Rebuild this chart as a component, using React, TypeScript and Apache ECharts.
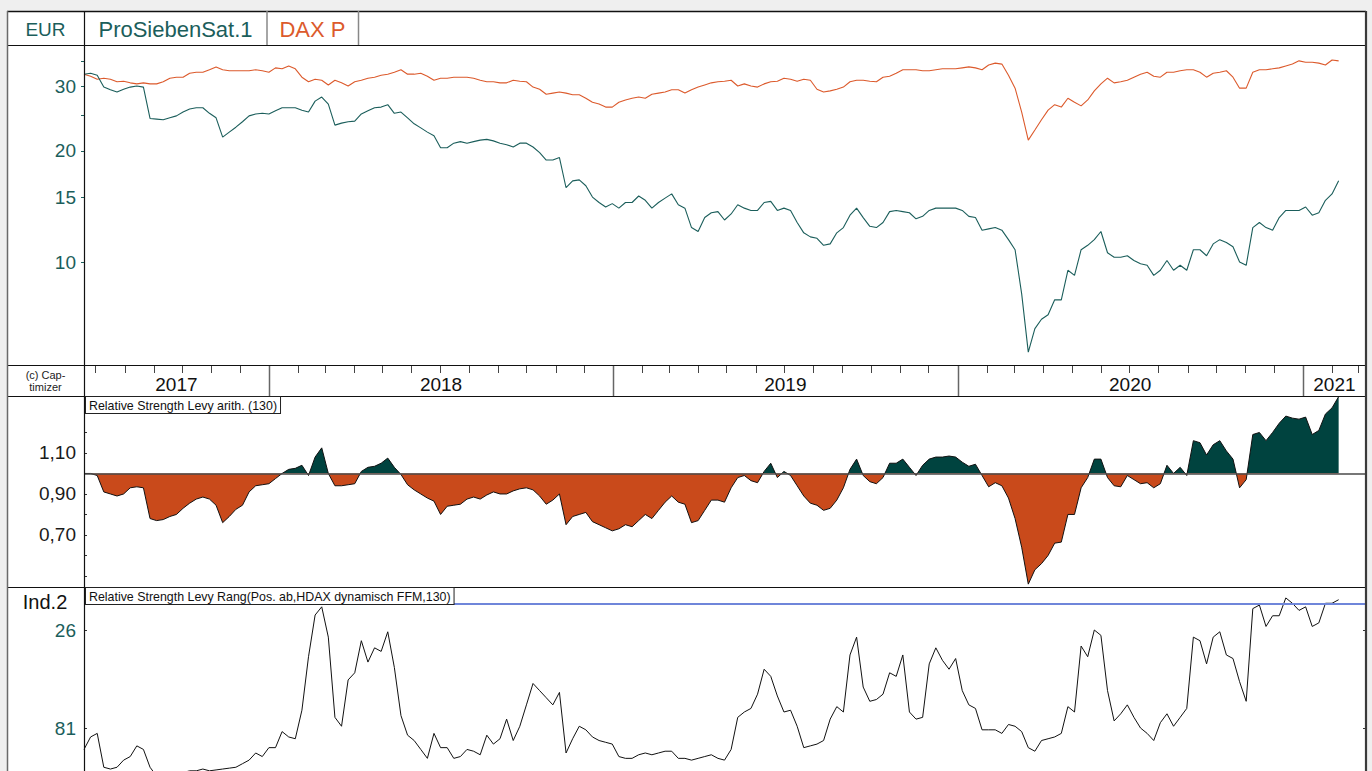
import React, { useEffect, useRef } from "react";
import * as echarts from "echarts";

// ---- time base (weekly samples) ----
const START = Date.UTC(2017, 5, 19);
const STEP_DAYS = 7;
const AXIS_MIN = Date.UTC(2017, 5, 19);
const AXIS_MAX = Date.UTC(2021, 2, 9);
const years = [2017, 2018, 2019, 2020, 2021];

// ---- series values ----
const proSieben = [
  32.3, 32.5, 32.1, 29.8, 29.3, 28.9, 29.4, 29.8, 30.0, 29.8,
  24.5, 24.4, 24.3, 24.6, 24.9, 25.5, 26.0, 26.2, 26.2, 25.3,
  24.6, 21.8, 22.5, 23.2, 24.0, 24.9, 25.2, 25.3, 25.2, 25.7,
  26.2, 26.2, 26.2, 25.8, 25.5, 27.3, 28.0, 26.8, 23.5, 23.8,
  24.0, 24.1, 25.2, 25.7, 26.2, 26.3, 26.7, 25.3, 25.5, 24.6,
  23.7, 23.1, 22.5, 22.0, 20.4, 20.4, 21.0, 21.2, 21.0, 21.2,
  21.4, 21.5, 21.3, 21.0, 20.8, 20.5, 21.0, 21.0, 20.5, 19.8,
  18.9, 18.9, 19.2, 15.9, 16.6, 16.7, 16.1, 15.0, 14.5, 14.1,
  14.4, 14.0, 14.5, 14.5, 15.1, 14.7, 14.0, 14.5, 14.9, 15.3,
  14.3, 14.0, 12.4, 12.1, 13.2, 13.6, 13.7, 13.0, 13.5, 14.3,
  14.0, 13.8, 13.8, 14.5, 14.6, 13.8, 14.0, 13.8, 12.8, 12.0,
  11.7, 11.6, 11.1, 11.2, 12.0, 12.4, 13.4, 14.0, 13.2, 12.5,
  12.4, 12.8, 13.7, 13.8, 13.7, 13.6, 13.1, 13.3, 13.8, 14.0,
  14.0, 14.0, 14.0, 13.8, 13.3, 13.2, 12.2, 12.3, 12.4, 12.2,
  11.5, 10.8, 8.2, 5.7, 6.6, 7.0, 7.2, 7.9, 7.9, 9.5,
  9.2, 10.8, 11.1, 11.5, 12.1, 10.6, 10.3, 10.3, 10.4, 10.1,
  9.9, 9.8, 9.2, 9.5, 10.1, 9.5, 9.8, 9.5, 10.8, 10.8,
  10.4, 11.2, 11.5, 11.3, 11.0, 10.0, 9.8, 12.4, 12.8, 12.4,
  12.2, 13.2, 13.8, 13.8, 13.8, 14.1, 13.4, 13.6, 14.7, 15.3,
  16.6,
];

const daxP = [
  32.3, 31.9, 31.3, 31.5, 31.3, 30.8, 30.9, 30.6, 30.4, 30.6,
  30.4, 30.4, 30.8, 31.5, 31.7, 31.7, 32.5, 32.7, 32.7, 33.2,
  33.8, 33.2, 33.0, 33.0, 33.0, 33.0, 33.2, 33.0, 32.7, 33.6,
  33.4, 34.0, 33.4, 31.7, 30.8, 31.3, 31.1, 30.2, 31.1, 30.6,
  30.0, 30.8, 31.1, 31.5, 31.7, 32.1, 32.3, 32.7, 33.2, 32.3,
  32.3, 32.5, 31.9, 31.1, 31.5, 31.5, 31.7, 31.7, 31.7, 31.5,
  31.1, 30.8, 30.8, 30.6, 30.6, 31.1, 30.9, 30.8, 29.8, 29.4,
  28.5, 28.7, 28.9, 28.7, 28.4, 28.4, 27.8, 27.1, 26.8, 26.3,
  26.3, 27.1, 27.5, 27.8, 28.0, 27.8, 28.5, 28.7, 28.9, 29.3,
  29.3, 28.7, 29.3, 29.8, 30.2, 30.6, 30.8, 30.9, 31.1, 30.0,
  30.4, 30.0, 29.8, 30.4, 30.8, 30.9, 31.5, 31.3, 30.9, 31.3,
  31.1, 29.4, 28.9, 29.1, 29.4, 29.8, 30.8, 31.1, 31.1, 30.9,
  30.8, 31.7, 31.9, 32.5, 33.2, 33.2, 33.2, 33.0, 33.0, 33.2,
  33.4, 33.4, 33.4, 33.6, 33.8, 33.6, 33.2, 34.2, 34.6, 34.4,
  32.1, 29.6, 25.5, 21.4, 22.8, 24.3, 25.8, 26.7, 26.3, 27.8,
  27.1, 26.5, 27.5, 29.1, 30.4, 31.5, 30.6, 30.8, 31.1, 31.7,
  32.3, 32.7, 31.9, 31.7, 32.7, 32.7, 33.0, 33.2, 33.2, 32.7,
  31.7, 32.5, 32.7, 33.0, 31.7, 29.6, 29.6, 32.7, 33.2, 33.2,
  33.4, 33.6, 34.0, 34.4, 35.1, 34.8, 34.8, 34.6, 34.2, 35.3,
  35.1,
];

const rsLevy = [
  1.0, 1.0, 0.99, 0.91, 0.9, 0.89, 0.9, 0.93, 0.935, 0.93,
  0.78, 0.77, 0.775, 0.79, 0.8, 0.83, 0.855, 0.875, 0.885, 0.875,
  0.845, 0.76, 0.79, 0.825, 0.845, 0.91, 0.94, 0.945, 0.95, 0.975,
  1.0, 1.02, 1.025, 1.04, 0.99, 1.08, 1.125, 1.0, 0.94, 0.94,
  0.945, 0.95, 1.01, 1.03, 1.035, 1.05, 1.075, 1.03, 0.995, 0.945,
  0.92, 0.9, 0.88, 0.865, 0.8, 0.84, 0.845, 0.85, 0.875, 0.885,
  0.875, 0.895, 0.91, 0.9, 0.9, 0.915, 0.925, 0.93, 0.92, 0.89,
  0.85, 0.87, 0.9, 0.75, 0.79, 0.8, 0.81, 0.765, 0.75, 0.735,
  0.72, 0.73, 0.75, 0.74, 0.77, 0.8, 0.78, 0.82, 0.86, 0.89,
  0.86, 0.85, 0.76, 0.77, 0.82, 0.87, 0.87, 0.86, 0.93, 0.98,
  0.99, 0.965, 0.955, 1.01, 1.05, 0.98, 1.01, 0.99, 0.94, 0.89,
  0.855, 0.845, 0.82, 0.83, 0.87, 0.93, 1.02, 1.07, 0.99, 0.96,
  0.95, 0.98, 1.05, 1.05, 1.07, 1.03, 0.99, 1.04, 1.07, 1.08,
  1.08, 1.085, 1.08, 1.055, 1.035, 1.045, 0.99, 0.935, 0.955, 0.94,
  0.88, 0.78, 0.64, 0.46, 0.53, 0.56, 0.6, 0.66, 0.665, 0.8,
  0.8, 0.93, 0.98, 1.07, 1.07, 0.98, 0.94, 0.935, 0.99, 0.97,
  0.95, 0.955, 0.93, 0.95, 1.04, 1.0, 1.03, 0.99, 1.16, 1.15,
  1.09, 1.14, 1.16, 1.11, 1.07, 0.93, 0.97, 1.19, 1.2, 1.16,
  1.2, 1.245, 1.28, 1.27, 1.265, 1.275, 1.19, 1.21, 1.29, 1.32,
  1.375,
];

const rsRank = [
  93, 86, 84, 103, 104, 103, 99, 97, 91, 93,
  103, 108, 109, 108, 106, 106, 105, 105, 104, 105,
  104.5, 104, 103.5, 103, 101, 99, 95, 97, 92, 92,
  83, 86, 87, 71, 41, 17.6, 13, 30, 75, 80,
  54, 50, 32, 44, 36, 38, 27, 47, 74, 85,
  88, 93, 98, 84, 92, 92, 98, 97, 93, 94,
  96, 85, 90, 87, 76, 88, 80, 68, 56, 60,
  64, 68, 61, 95, 87, 80, 82, 86, 88, 89,
  90, 97, 98, 98, 96, 95, 96, 95, 94, 94,
  98, 98, 99, 98, 97, 96, 98, 99, 93, 75,
  72, 70, 62, 48, 52, 63, 72, 71, 80, 92,
  91, 90, 88, 76, 69, 72, 40, 30, 58, 66,
  65, 62, 50, 52, 40, 72, 76, 75, 45, 36,
  43, 48, 42, 60, 68, 70, 82, 82, 82, 84,
  79, 80, 83, 92, 94, 88, 87, 86, 84, 69,
  72, 35, 41, 26, 29, 60, 77, 73, 68, 75,
  81, 84, 88, 78, 73, 80, 75, 70, 30, 32,
  45, 30, 27, 40, 42, 55, 66, 14, 12, 24,
  18, 18, 8, 11, 15, 13, 24, 22, 11, 11,
  9,
];

// ---- tick labels / axis ranges ----
const priceLabelValues = [10, 15, 20, 30];
const priceTickValues = [10, 15, 20, 25, 30, 35];
const PRICE_MIN = 5.26;
const PRICE_MAX = 38.75;
const rsLabelValues = [0.7, 0.9, 1.1];
const rsTickValues = [0.5, 0.6, 0.7, 0.8, 0.9, 1.0, 1.1, 1.2, 1.3];
const RS_MIN = 0.446;
const RS_MAX = 1.378;
const RS_BASE = 1;
const rankLabelValues = [26, 81];
const RANK_MIN = 1.87;
const RANK_MAX = 105.1;
const RANK_MARK = 11;

const PRO_COLOR = "#1b5e5b";
const DAX_COLOR = "#dc5a2c";
const RS_UP = "#00433f";
const RS_DOWN = "#c94a1b";
const FONT = '"Liberation Sans", Arial, Helvetica, sans-serif';

export default function App() {
  const ref = useRef<HTMLDivElement>(null);

  useEffect(() => {
    const el = ref.current!;
    const chart = echarts.init(el, null, { renderer: "svg" });
    const DAY = 86400000;
    const dates = proSieben.map((_, i) => START + i * STEP_DAYS * DAY);
    const pairs = (arr: number[], f: (v: number) => number = (v) => v) =>
      arr.map((v, i) => [dates[i], f(v)]);

    const xAxisBase = { type: "time", min: AXIS_MIN, max: AXIS_MAX, show: false };

    chart.setOption({
      animation: false,
      backgroundColor: "transparent",
      textStyle: { fontFamily: FONT },
      grid: [
        { left: 84, top: 45, width: 1282, height: 320 },
        { left: 84, top: 396, width: 1282, height: 191 },
        { left: 84, top: 587, width: 1282, height: 184 },
      ],
      xAxis: [
        { ...xAxisBase, gridIndex: 0 },
        { ...xAxisBase, gridIndex: 1 },
        { ...xAxisBase, gridIndex: 2 },
      ],
      yAxis: [
        {
          gridIndex: 0,
          type: "value",
          min: Math.log10(PRICE_MIN),
          max: Math.log10(PRICE_MAX),
          axisLine: { show: false },
          splitLine: { show: false },
          axisTick: {
            show: true,
            length: 3,
            customValues: priceTickValues.map((v) => Math.log10(v)),
            lineStyle: { color: PRO_COLOR },
          },
          axisLabel: {
            customValues: priceLabelValues.map((v) => Math.log10(v)),
            formatter: (v: number) => String(Math.round(Math.pow(10, v))),
            color: PRO_COLOR,
            fontSize: 19,
            margin: 8,
            fontFamily: FONT,
          },
        },
        {
          gridIndex: 1,
          type: "value",
          min: RS_MIN,
          max: RS_MAX,
          axisLine: { show: false },
          splitLine: { show: false },
          axisTick: {
            show: true,
            inside: true,
            length: 3,
            customValues: rsTickValues,
            lineStyle: { color: "#333" },
          },
          axisLabel: {
            customValues: rsLabelValues,
            formatter: (v: number) => v.toFixed(2).replace(".", ","),
            color: "#1a1a1a",
            fontSize: 19,
            margin: 8,
            fontFamily: FONT,
          },
        },
        {
          gridIndex: 2,
          type: "value",
          inverse: true,
          min: RANK_MIN,
          max: RANK_MAX,
          axisLine: { show: false },
          splitLine: { show: false },
          axisTick: {
            show: true,
            inside: true,
            length: 3,
            customValues: rankLabelValues,
            lineStyle: { color: "#333" },
          },
          axisLabel: {
            customValues: rankLabelValues,
            color: PRO_COLOR,
            fontSize: 19,
            margin: 8,
            fontFamily: FONT,
          },
        },
        {
          gridIndex: 2,
          type: "value",
          position: "right",
          inverse: true,
          min: RANK_MIN,
          max: RANK_MAX,
          axisLine: { show: false },
          splitLine: { show: false },
          axisTick: {
            show: true,
            inside: true,
            length: 3,
            customValues: rankLabelValues,
            lineStyle: { color: "#333" },
          },
          axisLabel: { show: false },
        },
      ],
      visualMap: [
        {
          type: "piecewise",
          show: false,
          seriesIndex: 2,
          dimension: 1,
          pieces: [
            { gte: 0, lt: RS_BASE, color: RS_DOWN },
            { gte: RS_BASE, lte: 10, color: RS_UP },
          ],
        },
      ],
      series: [
        {
          name: "ProSiebenSat.1",
          type: "line",
          xAxisIndex: 0,
          yAxisIndex: 0,
          data: pairs(proSieben, (v) => Math.log10(v)),
          symbol: "none",
          lineStyle: { color: PRO_COLOR, width: 1.1 },
          itemStyle: { color: PRO_COLOR },
          z: 4,
        },
        {
          name: "DAX P",
          type: "line",
          xAxisIndex: 0,
          yAxisIndex: 0,
          data: pairs(daxP, (v) => Math.log10(v)),
          symbol: "none",
          lineStyle: { color: DAX_COLOR, width: 1.1 },
          itemStyle: { color: DAX_COLOR },
          z: 3,
        },
        {
          name: "RS area",
          type: "line",
          xAxisIndex: 1,
          yAxisIndex: 1,
          data: pairs(rsLevy),
          symbol: "none",
          lineStyle: { width: 0, opacity: 0 },
          areaStyle: { origin: RS_BASE, opacity: 1 },
          z: 2,
        },
        {
          name: "Relative Strength Levy arith. (130)",
          type: "line",
          xAxisIndex: 1,
          yAxisIndex: 1,
          data: pairs(rsLevy),
          symbol: "none",
          lineStyle: { color: "#111", width: 1 },
          itemStyle: { color: "#111" },
          z: 4,
          markLine: {
            silent: true,
            symbol: ["none", "none"],
            label: { show: false },
            lineStyle: { color: "#4a4a4a", width: 1.6, type: "solid" },
            data: [{ yAxis: RS_BASE }],
          },
        },
        {
          name: "Relative Strength Levy Rang",
          type: "line",
          xAxisIndex: 2,
          yAxisIndex: 2,
          data: pairs(rsRank),
          symbol: "none",
          lineStyle: { color: "#111", width: 1 },
          itemStyle: { color: "#111" },
          z: 4,
          markLine: {
            silent: true,
            symbol: ["none", "none"],
            label: { show: false },
            lineStyle: { color: "#6f86da", width: 2, type: "solid" },
            data: [{ yAxis: RANK_MARK }],
          },
        },
      ],
    });

    // ---- frame, header, time strip (positions via the chart's time scale) ----
    const px = (t: number) => chart.convertToPixel({ xAxisIndex: 0 }, t) as number;
    const line = (x1: number, y1: number, x2: number, y2: number, stroke: string, w: number, z = 100) => ({
      type: "line",
      silent: true,
      z,
      shape: { x1, y1, x2, y2 },
      style: { stroke, lineWidth: w },
    });
    const text = (t: string, x: number, y: number, size: number, fill: string, align = "center", extra: any = {}) => ({
      type: "text",
      silent: true,
      z: 110,
      x,
      y,
      style: {
        text: t,
        fill,
        font: `${size}px ${FONT}`,
        textAlign: align,
        align,
        textVerticalAlign: "middle",
        verticalAlign: "middle",
        ...extra,
      },
    });

    const g: any[] = [];
    g.push({
      type: "rect",
      silent: true,
      z: -10,
      shape: { x: 7, y: 11, width: 1359, height: 770 },
      style: { fill: "#ffffff" },
    });
    // horizontal frame lines
    g.push(line(7, 11.5, 1366, 11.5, "#111", 1.5));
    g.push(line(7, 45.5, 1366, 45.5, "#111", 1.2));
    g.push(line(7, 365.5, 1366, 365.5, "#111", 1.2));
    g.push(line(7, 396.5, 1366, 396.5, "#111", 1.2));
    g.push(line(7, 587.5, 1366, 587.5, "#111", 1.2));
    // vertical frame lines
    g.push(line(7.5, 11, 7.5, 771, "#6a6a6a", 1.5));
    g.push(line(84.5, 11, 84.5, 771, "#111", 1.2));
    g.push(line(1366, 11, 1366, 771, "#3a3a3a", 2.2));
    g.push(line(267, 11, 267, 45, "#888", 1.5));
    g.push(line(358.5, 11, 358.5, 45, "#888", 1.5));

    // header texts
    g.push(text("EUR", 45.5, 29, 19, PRO_COLOR));
    g.push(text("ProSiebenSat.1", 175.5, 29, 22, PRO_COLOR));
    g.push(text("DAX P", 312.5, 29, 22, DAX_COLOR));
    g.push(text("(c) Cap-", 45.5, 375, 11, "#222"));
    g.push(text("timizer", 45.5, 387, 11, "#222"));
    g.push(text("Ind.2", 45, 602, 20, "#111"));

    // indicator titles
    const boxStyle = {
      backgroundColor: "#ffffff",
      borderColor: "#222",
      borderWidth: 1,
      padding: [2, 3, 1, 3],
      lineHeight: 13,
      textVerticalAlign: "top",
      verticalAlign: "top",
    };
    g.push(text("Relative Strength Levy arith. (130)", 86, 397, 12.4, "#111", "left", boxStyle));
    g.push(text("Relative Strength Levy Rang(Pos. ab,HDAX dynamisch FFM,130)", 86, 588, 12.4, "#111", "left", boxStyle));

    // month ticks and year separators
    for (let y = 2017; y <= 2021; y++) {
      for (let m = 0; m < 12; m++) {
        const t = Date.UTC(y, m, 1);
        if (t <= AXIS_MIN || t >= AXIS_MAX) continue;
        const x = Math.round(px(t)) + 0.5;
        if (m === 0) {
          g.push(line(x, 366, x, 396, "#666", 1.5));
        } else {
          g.push(line(x, 366, x, 373, "#444", 1));
        }
      }
    }
    // year labels centred in the visible part of each year
    years.forEach((y) => {
      const s = Math.max(Date.UTC(y, 0, 1), AXIS_MIN);
      const e = Math.min(Date.UTC(y + 1, 0, 1), AXIS_MAX);
      g.push(text(String(y), (px(s) + px(e)) / 2, 384.5, 19, "#111"));
    });

    chart.setOption({ graphic: g });

    return () => chart.dispose();
  }, []);

  return (
    <div
      ref={ref}
      style={{
        position: "fixed",
        left: 0,
        top: 0,
        width: 1372,
        height: 771,
        background: "#efefef",
      }}
    />
  );
}
